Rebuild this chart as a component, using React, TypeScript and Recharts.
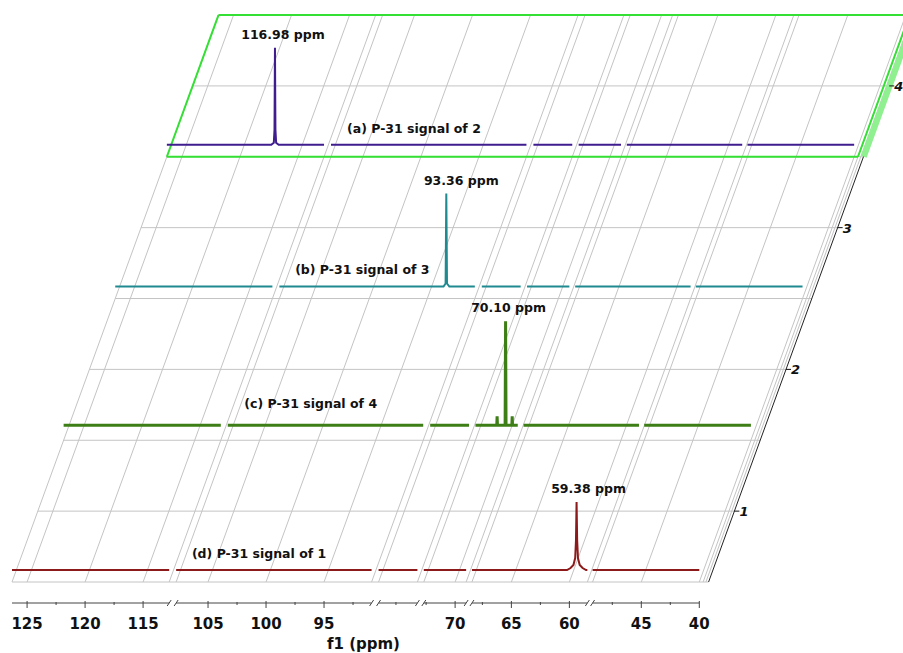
import React from 'react';
import { ComposedChart, Line, XAxis, YAxis, ReferenceLine, ReferenceDot } from 'recharts';

// ---------------- data ----------------
// broken ppm axis: visible segments (high ppm -> low ppm)
const SEG_HI = [126.3, 107.75, 84.0, 72.7, 68.4, 49.2];
const SEG_LO = [112.75, 90.9, 80.65, 69.05, 58.45, 40.0];
const SEG_GAP_BEFORE = [0, 0.6, 0.6, 0.55, 0.5, 0.45];

const MAJOR_TICKS = [125, 120, 115, 105, 100, 95, 70, 65, 60, 45, 40];
const MINOR_TICKS = [122.5, 117.5, 102.5, 97.5, 92.5, 82.5, 72.5, 67.5, 62.5, 47.5, 42.5];

// spectra, bottom (level 1) to top (level 4)
const SPECTRUM_NAMES = ['(d) P-31 signal of 1', '(c) P-31 signal of 4', '(b) P-31 signal of 3', '(a) P-31 signal of 2'];
const PEAK_LABELS = ['59.38 ppm', '70.10 ppm', '93.36 ppm', '116.98 ppm'];
const PEAK_PPM = [59.38, 70.1, 93.36, 116.98];
const PEAK_INT = [0.68, 1.04, 0.93, 0.97];
const LEVEL_TICKS = [1, 2, 3, 4];

const SPEC_D_PPM = [60.2, 59.9, 59.65, 59.5, 59.43, 59.38, 59.33, 59.26, 59.11, 58.86, 58.56];
const SPEC_D_INT = [0, 0.02, 0.05, 0.12, 0.3, 0.68, 0.3, 0.12, 0.05, 0.02, 0];
const SPEC_C_PPM = [70.9, 70.86, 70.83, 70.8, 70.14, 70.1, 70.06, 69.56, 69.53, 69.5];
const SPEC_C_INT = [0, 0, 0.09, 0, 0, 1.04, 0, 0, 0.09, 0];
const SPEC_B_PPM = [93.6, 93.42, 93.36, 93.3, 93.1];
const SPEC_B_INT = [0, 0.03, 0.93, 0.03, 0];
const SPEC_A_PPM = [117.3, 117.08, 117.02, 116.98, 116.94, 116.88, 116.66];
const SPEC_A_INT = [0, 0.02, 0.15, 0.97, 0.15, 0.02, 0];

const SPEC_PPM = [SPEC_D_PPM, SPEC_C_PPM, SPEC_B_PPM, SPEC_A_PPM];
const SPEC_INT = [SPEC_D_INT, SPEC_C_INT, SPEC_B_INT, SPEC_A_INT];

// ---------------- styles / layout ----------------
const COLORS = ['#8c1a1a', '#3e7e16', '#1f8a8f', '#3f1d8f'];
const STROKES = [2, 3, 2, 2];
const BASE_PX = [12, 15, 12, 12];
const PEAK_LABEL_DX = [12, 3, 15, 8];
const NAME_DY = [-12, -17, -13, -12];
const NAME_AT_PPM = 100.6;
const AXIS_TITLE_AT_PPM = 91.6;

const W = 903;
const H = 653;
const AXIS_H = 50;
const PX_PER_UNIT = 11.6;
const PX_PER_LEVEL = 141.74;
const X_MIN = -12 / PX_PER_UNIT;
const X_MAX = (W - 12) / PX_PER_UNIT;
const Y_MIN = 0.5 - 21 / PX_PER_LEVEL;
const Y_MAX = Y_MIN + (H - AXIS_H) / PX_PER_LEVEL;
const SHIFT = 4.45; // x shift per level
const INT_SCALE = 100 / PX_PER_LEVEL;
const EDGE_C = [59.58, 59.82];
const AXIS_C = 60.05;
const FONT = 'DejaVu Sans';

// segment start positions on the compressed axis
const SEG_START: number[] = [];
SEG_HI.forEach((hi, i) => {
  const prevEnd = i === 0 ? 0 : SEG_START[i - 1] + (SEG_HI[i - 1] - SEG_LO[i - 1]);
  SEG_START.push(prevEnd + SEG_GAP_BEFORE[i]);
});
const SEG_END = SEG_HI.map((hi, i) => SEG_START[i] + (hi - SEG_LO[i]));

function cOf(ppm: number): number {
  for (let i = 0; i < SEG_HI.length; i++) {
    if (ppm <= SEG_HI[i] + 1e-9 && ppm >= SEG_LO[i] - 1e-9) return SEG_START[i] + (SEG_HI[i] - ppm);
  }
  return NaN;
}
const baseV = (k: number) => k + 0.5 + BASE_PX[k] / PX_PER_LEVEL;

function buildSeries(k: number) {
  const pts: { x: number; y: number | null }[] = [];
  const ppms = SPEC_PPM[k];
  const ints = SPEC_INT[k];
  SEG_HI.forEach((hi, i) => {
    const lo = SEG_LO[i];
    pts.push({ x: SEG_START[i] + k * SHIFT, y: baseV(k) });
    ppms.forEach((p, j) => {
      if (p < hi && p > lo) pts.push({ x: cOf(p) + k * SHIFT, y: baseV(k) + ints[j] * INT_SCALE });
    });
    pts.push({ x: SEG_END[i] + k * SHIFT, y: baseV(k) });
    pts.push({ x: SEG_END[i] + k * SHIFT + 0.2, y: null });
  });
  return pts;
}
const SERIES = [0, 1, 2, 3].map(buildSeries);

// ticks for the bottom axis
type TickInfo = { kind: 'major' | 'minor' | 'break'; label?: string };
const TICK_INFO = new Map<string, TickInfo>();
const TICK_VALUES: number[] = [];
const addTick = (c: number, info: TickInfo) => {
  const key = c.toFixed(4);
  if (TICK_INFO.has(key)) return;
  TICK_INFO.set(key, info);
  TICK_VALUES.push(c);
};
MAJOR_TICKS.forEach((p) => addTick(cOf(p), { kind: 'major', label: String(p) }));
MINOR_TICKS.forEach((p) => addTick(cOf(p), { kind: 'minor' }));
SEG_HI.forEach((_, i) => {
  if (i > 0) addTick(SEG_START[i], { kind: 'break' });
  if (i < SEG_HI.length - 1) addTick(SEG_END[i], { kind: 'break' });
});
TICK_VALUES.sort((a, b) => a - b);

const GRID_C = Array.from(
  new Set([...SEG_START, ...SEG_END, ...MAJOR_TICKS.map(cOf), ...EDGE_C].map((v) => Number(v.toFixed(4))))
);
const H_LEVELS = [0.5, 1, 1.5, 2, 2.5, 3, 3.5, 4, 4.5];

const AxisTick = (props: any) => {
  const { x, y, payload } = props;
  const info = TICK_INFO.get(Number(payload.value).toFixed(4));
  if (!info) return null;
  if (info.kind === 'major') {
    return (
      <g>
        <line x1={x} y1={y - 2} x2={x} y2={y + 5} stroke="#444" strokeWidth={1} />
        <text x={x} y={y + 26} textAnchor="middle" fontFamily={FONT} fontWeight="bold" fontSize={15} fill="#111">
          {info.label}
        </text>
      </g>
    );
  }
  if (info.kind === 'minor') {
    return <line x1={x} y1={y - 1} x2={x} y2={y + 2} stroke="#444" strokeWidth={1} />;
  }
  return <line x1={x - 2} y1={y + 3} x2={x + 2} y2={y - 3} stroke="#444" strokeWidth={1} />;
};

export default function App() {
  const gray = '#c4c4c4';
  return (
    <div style={{ position: 'absolute', left: 0, top: 0, width: W, height: H, background: '#fff' }}>
      <ComposedChart width={W} height={H} margin={{ top: 0, right: 0, bottom: 0, left: 0 }}>
        <XAxis
          type="number"
          dataKey="x"
          domain={[X_MIN, X_MAX]}
          allowDataOverflow
          ticks={TICK_VALUES}
          interval={0}
          tick={<AxisTick />}
          axisLine={false}
          tickLine={false}
          tickSize={0}
          tickMargin={0}
          height={AXIS_H}
        />
        <YAxis type="number" dataKey="y" domain={[Y_MIN, Y_MAX]} allowDataOverflow hide />

        {/* horizontal grid lines on the stacked back planes */}
        {H_LEVELS.map((v) => (
          <ReferenceLine
            key={'h' + v}
            segment={[
              { x: (v - 0.5) * SHIFT, y: v },
              { x: AXIS_C + (v - 0.5) * SHIFT, y: v },
            ]}
            stroke={gray}
            strokeWidth={1}
            ifOverflow="hidden"
          />
        ))}
        {/* slanted grid lines */}
        {GRID_C.map((c) => (
          <ReferenceLine
            key={'d' + c}
            segment={[
              { x: c, y: 0.5 },
              { x: c + 4 * SHIFT, y: 4.5 },
            ]}
            stroke={gray}
            strokeWidth={1}
            ifOverflow="hidden"
          />
        ))}
        {/* right (stack) axis */}
        <ReferenceLine
          segment={[
            { x: AXIS_C, y: 0.5 },
            { x: AXIS_C + 4 * SHIFT, y: 4.5 },
          ]}
          stroke="#222"
          strokeWidth={1}
          ifOverflow="hidden"
        />
        {/* highlighted top slab */}
        <ReferenceLine
          segment={[
            { x: 3 * SHIFT + EDGE_C[0] + 0.5, y: 3.5 },
            { x: 4 * SHIFT + EDGE_C[0] + 0.5, y: 4.5 },
          ]}
          stroke="#8ef08e"
          strokeWidth={6}
          ifOverflow="hidden"
        />
        {[
          [3 * SHIFT, 3.5, 3 * SHIFT + EDGE_C[0], 3.5],
          [4 * SHIFT, 4.5, 4 * SHIFT + EDGE_C[0], 4.5],
          [3 * SHIFT, 3.5, 4 * SHIFT, 4.5],
          [3 * SHIFT + EDGE_C[0], 3.5, 4 * SHIFT + EDGE_C[0], 4.5],
        ].map((s, i) => (
          <ReferenceLine
            key={'g' + i}
            segment={[
              { x: s[0], y: s[1] },
              { x: s[2], y: s[3] },
            ]}
            stroke="#33e033"
            strokeWidth={2}
            ifOverflow="hidden"
          />
        ))}

        {/* bottom axis line segments */}
        {SEG_START.map((s, i) => (
          <ReferenceLine
            key={'ax' + i}
            segment={[
              { x: s, y: Y_MIN },
              { x: SEG_END[i], y: Y_MIN },
            ]}
            stroke="#444"
            strokeWidth={1}
            ifOverflow="visible"
          />
        ))}

        {/* spectra */}
        {SERIES.map((data, k) => (
          <Line
            key={'s' + k}
            data={data}
            dataKey="y"
            type="linear"
            stroke={COLORS[k]}
            strokeWidth={STROKES[k]}
            dot={false}
            activeDot={false}
            connectNulls={false}
            isAnimationActive={false}
          />
        ))}

        {/* stack axis ticks */}
        {LEVEL_TICKS.map((lv) => (
          <ReferenceDot
            key={'lt' + lv}
            x={AXIS_C + (lv - 0.5) * SHIFT}
            y={lv}
            r={0}
            ifOverflow="visible"
            shape={(p: any) => (
              <g>
                <line x1={p.cx} y1={p.cy} x2={p.cx + 5} y2={p.cy} stroke="#111" strokeWidth={1} />
                <text
                  x={p.cx + 5}
                  y={p.cy + 5}
                  fontFamily={FONT}
                  fontWeight="bold"
                  fontStyle="italic"
                  fontSize={13}
                  fill="#111"
                >
                  {lv}
                </text>
              </g>
            )}
          />
        ))}

        {/* peak labels */}
        {PEAK_PPM.map((p, k) => (
          <ReferenceDot
            key={'pl' + k}
            x={cOf(p) + k * SHIFT}
            y={baseV(k) + PEAK_INT[k] * INT_SCALE}
            r={0}
            ifOverflow="visible"
            shape={(q: any) => (
              <text
                x={q.cx + PEAK_LABEL_DX[k]}
                y={q.cy - 9}
                textAnchor="middle"
                fontFamily={FONT}
                fontWeight="bold"
                fontSize={12.5}
                fill="#111"
              >
                {PEAK_LABELS[k]}
              </text>
            )}
          />
        ))}

        {/* spectrum names */}
        {SPECTRUM_NAMES.map((name, k) => (
          <ReferenceDot
            key={'nm' + k}
            x={cOf(NAME_AT_PPM) + k * SHIFT}
            y={baseV(k)}
            r={0}
            ifOverflow="visible"
            shape={(q: any) => (
              <text
                x={q.cx}
                y={q.cy + NAME_DY[k]}
                textAnchor="middle"
                fontFamily={FONT}
                fontWeight="bold"
                fontSize={12.5}
                fill="#111"
              >
                {name}
              </text>
            )}
          />
        ))}

        {/* axis title */}
        <ReferenceDot
          x={cOf(AXIS_TITLE_AT_PPM)}
          y={Y_MIN}
          r={0}
          ifOverflow="visible"
          shape={(q: any) => (
            <text x={q.cx} y={q.cy + 46} textAnchor="middle" fontFamily={FONT} fontWeight="bold" fontSize={15} fill="#111">
              f1 (ppm)
            </text>
          )}
        />
      </ComposedChart>
    </div>
  );
}
